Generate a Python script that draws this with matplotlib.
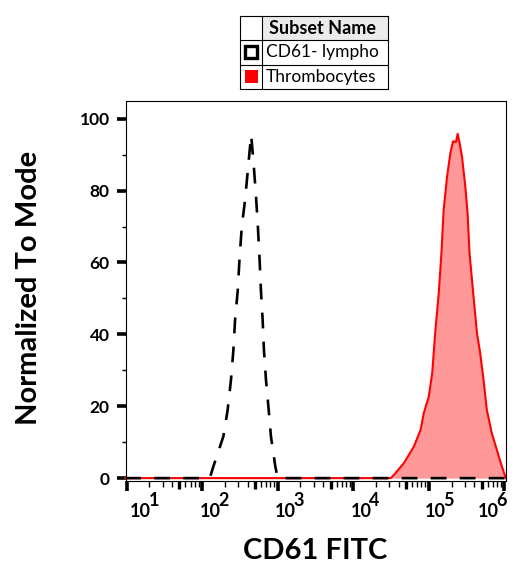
import numpy as np
import matplotlib
matplotlib.use("Agg")
import matplotlib.pyplot as plt
from matplotlib.patches import Rectangle

plt.rcParams['font.family'] = ['Lato', 'DejaVu Sans']

# --- data (x as log10 of CD61 FITC, y as % of mode) ---
lympho_logx = [0.98, 2.10, 2.147, 2.28, 2.337, 2.381, 2.413, 2.435, 2.471, 2.493, 2.524,
               2.568, 2.613, 2.648, 2.68, 2.715, 2.737, 2.76, 2.777, 2.80, 2.817,
               2.844, 2.88, 2.91, 2.968, 3.0, 6.03]
lympho_y = [0, 0, 3.2, 11.6, 19.0, 27.4, 35.7, 44.0, 52.4, 60.7, 70.0,
            77.5, 87.7, 95.5, 87.7, 77.5, 70.0, 60.7, 52.4, 44.0, 35.7,
            27.4, 19.0, 11.6, 3.2, 0, 0]

thrombo_logx = [0.98, 4.496, 4.539, 4.671, 4.803, 4.891, 4.934, 5.0, 5.045, 5.088,
                5.132, 5.167, 5.197, 5.242, 5.286, 5.321, 5.36, 5.382, 5.408, 5.439,
                5.483, 5.513, 5.539, 5.592, 5.637, 5.68, 5.724, 5.768, 5.834,
                5.90, 5.953, 5.997, 6.02]
thrombo_y = [0, 0, 0.9, 4.2, 8.8, 13.4, 18.1, 22.7, 29.2, 41.3,
             51.5, 62.6, 74.7, 83.9, 90.5, 93.7, 93.5, 95.8, 93.2, 89.5,
             81.2, 73.8, 62.6, 50.5, 40.4, 34.8, 27.4, 19.0, 12.5,
             7.9, 4.2, 1.4, 0]

decades = [1, 2, 3, 4, 5, 6]
y_major = [0, 20, 40, 60, 80, 100]
y_minor = [10, 30, 50, 70, 90]

legend_names = ["CD61- lympho", "Thrombocytes"]

W, H = 524, 578
fig = plt.figure(figsize=(W / 100, H / 100), dpi=100)
ax = fig.add_axes([125.7 / W, 1 - 481 / H, (506 - 125.7) / W, (481 - 100.7) / H])

lx = 10 ** np.array(lympho_logx)
tx = 10 ** np.array(thrombo_logx)

ax.fill_between(tx, 0, thrombo_y, color='#ff9999', lw=0, zorder=1)
ax.plot(tx, thrombo_y, color='#ff0000', lw=1.5, zorder=2, clip_on=False)
ax.plot(lx, lympho_y, color='black', lw=1.9, linestyle=(0, (6, 5.0)), zorder=3)

ax.set_xscale('log')
ax.set_xlim(10 ** 0.987, 10 ** 6.022)
ax.set_ylim(-0.8, 105)

for s in ax.spines.values():
    s.set_linewidth(0.8)

# x ticks
ax.set_xticks([10.0 ** k for k in decades])
ax.set_xticklabels([])
minor = [m * 10.0 ** k for k in range(1, 6) for m in range(2, 10)]
ax.set_xticks(minor, minor=True)
ax.tick_params(axis='x', which='major', direction='out', length=7.5, width=2.6)
ax.tick_params(axis='x', which='minor', direction='out', length=4.5, width=1.0)
for t, loc in zip(ax.xaxis.get_minor_ticks(len(minor)), minor):
    if abs(loc / 10 ** np.floor(np.log10(loc)) - 5) < 1e-6:
        t.tick1line.set_markersize(6)
        t.tick1line.set_markeredgewidth(2.4)

# y ticks
ax.set_yticks(y_major)
ax.set_yticks(y_minor, minor=True)
ax.tick_params(axis='y', which='major', direction='out', length=6.5, width=2.6,
               labelsize=12.5, pad=5)
ax.tick_params(axis='y', which='minor', direction='out', length=3, width=1.0)
for lab in ax.get_yticklabels():
    lab.set_fontweight('bold')

# decade labels as 10 with a full-size exponent
base_dx = [14, 8, 8, 8, 7, -16]
for k, dx in zip(decades, base_dx):
    ax.annotate("10", xy=(10.0 ** k, 0), xycoords=('data', 'axes fraction'),
                xytext=(dx * 0.72, -22), textcoords='offset points',
                ha='center', va='center', fontsize=13, fontweight='bold')
    ax.annotate(str(k), xy=(10.0 ** k, 0), xycoords=('data', 'axes fraction'),
                xytext=((dx + 13) * 0.72, -13.7), textcoords='offset points',
                ha='center', va='center', fontsize=13, fontweight='bold')

fig.text(315.5 / W, 1 - 551 / H, "CD61 FITC", ha='center', va='center',
         fontsize=21, fontweight='bold')
fig.text(29 / W, 1 - 288 / H, "Normalized To Mode", ha='center', va='center',
         rotation=90, fontsize=21, fontweight='bold')

# legend table
lg = fig.add_axes([240 / W, 1 - 89 / H, 148 / W, 73 / H])
lg.set_xlim(0, 148)
lg.set_ylim(73, 0)
lg.axis('off')
lg.add_patch(Rectangle((22, 0), 126, 24, facecolor='#ebebeb', edgecolor='none'))
for yy in [0, 24, 48.5, 73]:
    lg.plot([0, 148], [yy, yy], color='black', lw=0.8, clip_on=False)
for xx in [0, 22, 148]:
    lg.plot([xx, xx], [0, 73], color='black', lw=0.8, clip_on=False)
lg.text(29, 12.5, "Subset Name", ha='left', va='center', fontsize=13, fontweight='bold')
lg.add_patch(Rectangle((5, 30), 12, 12, facecolor='white', edgecolor='black', lw=2.4))
lg.add_patch(Rectangle((4.5, 54), 13, 13, facecolor='#ff0000', edgecolor='none'))
for i, name in enumerate(legend_names):
    lg.text(26, 36.5 + 24.5 * i, name, ha='left', va='center', fontsize=12.5)

fig.savefig("out.png", dpi=100)
